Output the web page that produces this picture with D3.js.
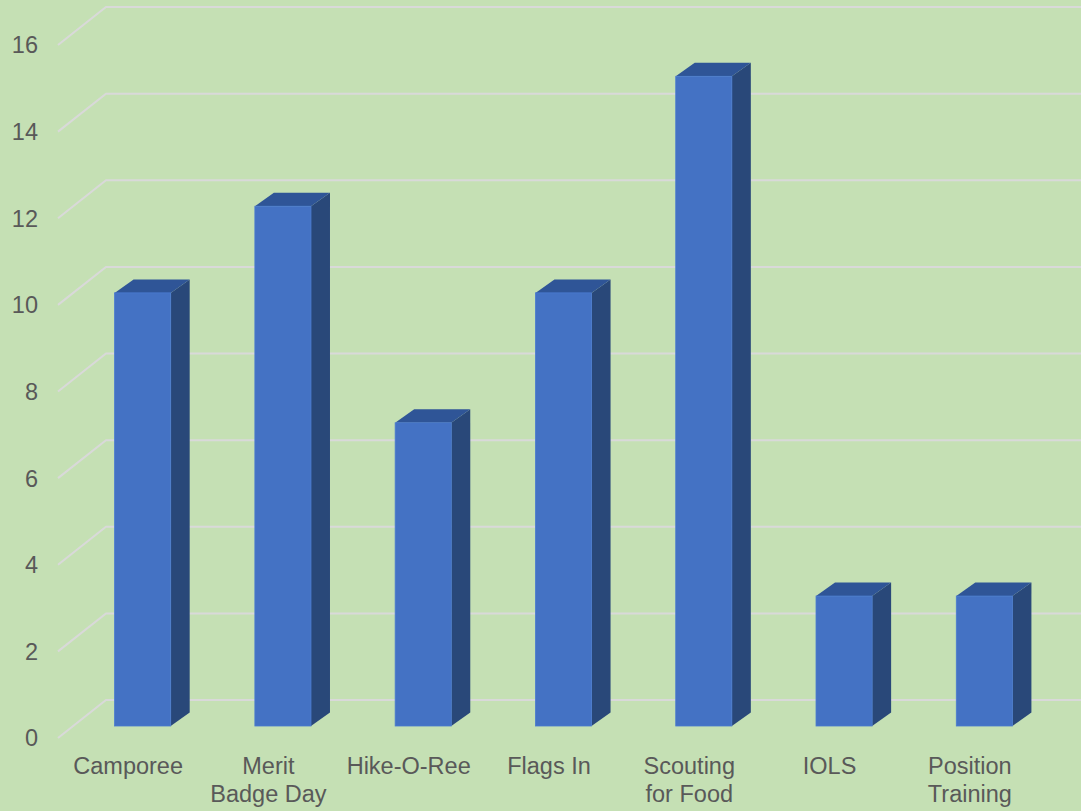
<!DOCTYPE html>
<html><head><meta charset="utf-8">
<script src="https://cdn.jsdelivr.net/npm/d3@7"></script>
<style>html,body{margin:0;padding:0;background:#c5e0b4;}svg{display:block;}</style>
</head><body>
<script>
const categories = [["Camporee"],["Merit","Badge Day"],["Hike-O-Ree"],["Flags In"],["Scouting","for Food"],["IOLS"],["Position","Training"]];
const values = [10, 12, 7, 10, 15, 3, 3];
const yTicks = [0, 2, 4, 6, 8, 10, 12, 14, 16];

const W = 1081, H = 811;
const svg = d3.select("body").append("svg").attr("width", W).attr("height", H);
svg.append("rect").attr("width", W).attr("height", H).attr("fill", "#c5e0b4");

const names = categories.map(c => c.join(" "));
const x = d3.scaleBand().domain(names).range([58, 1040]).padding(0);
// back wall, side wall front edge, bar front plane
const yBack = d3.scaleLinear().domain([0, 16]).range([700, 7]);
const yFront = d3.scaleLinear().domain([0, 16]).range([738, 45]);
const yBar = d3.scaleLinear().domain([0, 16]).range([726, 33]);
const wallX0 = 58, wallX1 = 106;

const grid = svg.append("g").attr("stroke", "#d9d9d9").attr("stroke-width", 2).attr("fill", "none");
yTicks.forEach(t => {
  grid.append("path").attr("d", `M${wallX0},${yFront(t)}L${wallX1},${yBack(t)}L${W},${yBack(t)}`);
});

const lab = svg.append("g").attr("font-family", "Liberation Sans, Arial, sans-serif").attr("font-size", 23.5).attr("fill", "#595959");
yTicks.forEach(t => {
  lab.append("text").attr("x", 38).attr("y", yFront(t)).attr("dy", "0.36em").attr("text-anchor", "end").text(t);
});

const step = x.step();
const bw = step * 0.4;
const dx = 19, dy = -13.5;
const bars = svg.append("g");
names.forEach((n, i) => {
  const v = values[i];
  const x0 = x(n) + step / 2 + 14.5 - bw / 2;
  const x1 = x0 + bw;
  const yt = yBar(v), yb = yBar(0);
  // side
  bars.append("path").attr("d", `M${x1},${yt}L${x1+dx},${yt+dy}L${x1+dx},${yb+dy}L${x1},${yb}Z`).attr("fill", "#294879");
  // top
  bars.append("path").attr("d", `M${x0},${yt}L${x0+dx},${yt+dy}L${x1+dx},${yt+dy}L${x1},${yt}Z`).attr("fill", "#2f5597");
  // front
  bars.append("rect").attr("x", x0).attr("y", yt).attr("width", bw).attr("height", yb - yt).attr("fill", "#4472c4").attr("stroke", "#4a7bd0").attr("stroke-width", 0.8);
});

names.forEach((n, i) => {
  const cx = x(n) + step / 2;
  const t = lab.append("text").attr("text-anchor", "middle");
  categories[i].forEach((line, j) => {
    t.append("tspan").attr("x", cx).attr("y", 774 + j * 28).text(line);
  });
});
</script>
</body></html>
